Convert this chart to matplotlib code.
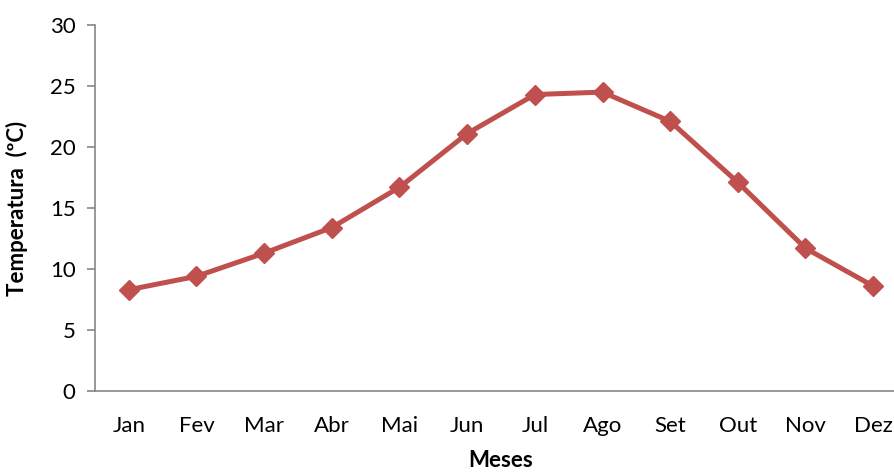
import matplotlib
matplotlib.use('Agg')
import matplotlib.pyplot as plt

# temperatura media mensal
meses = ['Jan', 'Fev', 'Mar', 'Abr', 'Mai', 'Jun', 'Jul', 'Ago', 'Set', 'Out', 'Nov', 'Dez']
temperatura = [8.3, 9.4, 11.3, 13.4, 16.7, 21.1, 24.3, 24.5, 22.1, 17.1, 11.7, 8.6]

plt.rcParams['font.family'] = ['Lato', 'DejaVu Sans']

fig = plt.figure(figsize=(8.94, 4.75), dpi=100)
ax = fig.add_axes([95 / 894, 84 / 475, 812 / 894, 366 / 475])

x = list(range(len(meses)))
ax.plot(x, temperatura, color='#C0504D', linewidth=3.6, marker='D', markersize=10,
        markeredgecolor='#C0504D', markerfacecolor='#C0504D')

ax.set_xlim(-0.5, len(meses) - 0.5)
ax.set_ylim(0, 30)
ax.set_yticks([0, 5, 10, 15, 20, 25, 30])
ax.set_xticks(x)
ax.set_xticklabels(meses)

# eixos ao estilo do Excel
for lado in ['top', 'right']:
    ax.spines[lado].set_visible(False)
for lado in ['left', 'bottom']:
    ax.spines[lado].set_color('#868686')
    ax.spines[lado].set_linewidth(1.2)
ax.tick_params(axis='y', colors='#868686', length=6, width=1.2, labelsize=16, labelcolor='black', pad=8)
ax.tick_params(axis='x', length=0, labelsize=16, labelcolor='black', pad=18)

ax.set_xlabel('Meses', fontsize=16, fontweight='bold', labelpad=10)
ax.set_ylabel('Temperatura  (ºC)', fontsize=16, fontweight='bold', labelpad=16)

fig.savefig('out.png', dpi=100)
